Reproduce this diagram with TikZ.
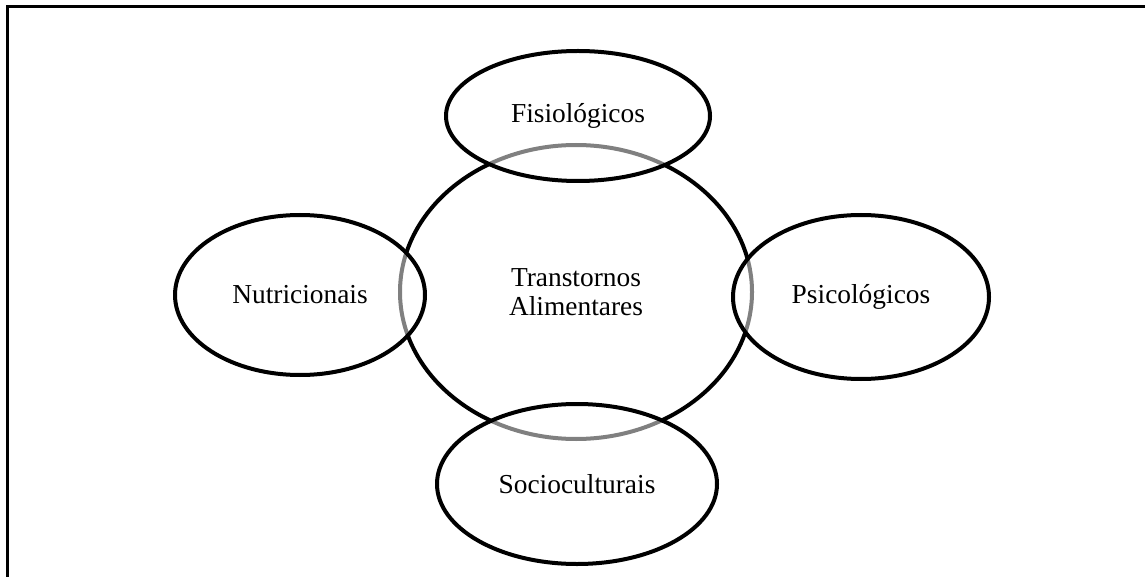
\documentclass[tikz,border=0pt]{standalone}
\usepackage{fontspec}
\setmainfont{Liberation Serif}
\usetikzlibrary{shapes.geometric}
\begin{document}
\begin{tikzpicture}[x=0.5pt,y=-0.5pt,
    every node/.style={font=\fontsize{13.7}{14.2}\selectfont},
    core/.style={ellipse,draw,line width=2pt,inner sep=0pt,align=center},
    factor/.style={ellipse,draw,line width=2pt,inner sep=0pt,
      fill=white,fill opacity=0.5,draw opacity=1,text opacity=1}]
  % page and frame
  \useasboundingbox (0,0) rectangle (1145,577);
  \draw[line width=1.5pt] (7.5,577) -- (7.5,6.5) -- (1145,6.5);

  % the centre
  \node[core,minimum width=176pt,minimum height=147pt] (ta) at (576,292)
    {Transtornos\\Alimentares};

  %% the four factors round it
  \node[factor,minimum width=132pt,minimum height=65pt] (fis) at (578,116) {Fisiológicos};
  \node[factor,minimum width=125pt,minimum height=80pt] (nut) at (300,295) {Nutricionais};
  \node[factor,minimum width=128pt,minimum height=82pt] (psi) at (861,297) {Psicológicos};
  \node[factor,minimum width=140pt,minimum height=80pt] (soc) at (577,484) {Socioculturais};
\end{tikzpicture}
\end{document}
